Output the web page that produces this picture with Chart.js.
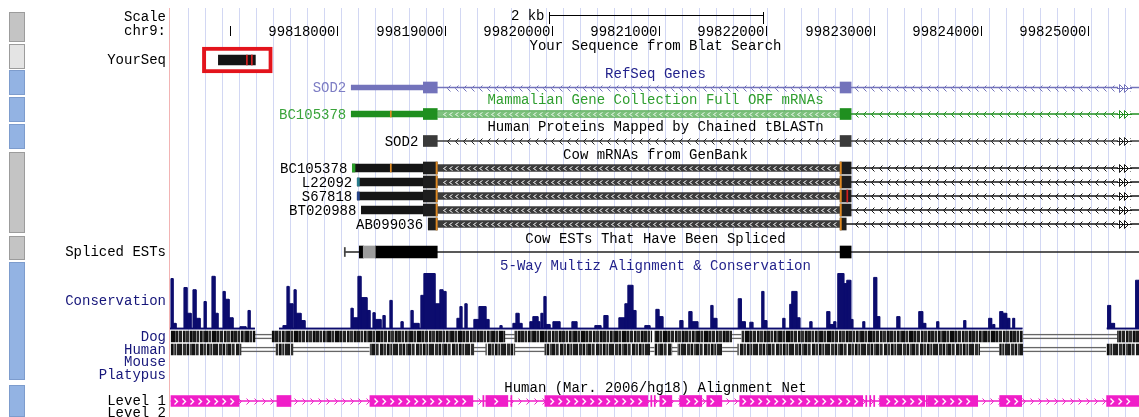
<!DOCTYPE html>
<html>
<head>
<meta charset="utf-8">
<script src="https://cdn.jsdelivr.net/npm/chart.js@4.4.0/dist/chart.umd.min.js"></script>
<style>
  body { margin: 0; background: #fff; }
  canvas { display: block; }
</style>
</head>
<body>
<canvas id="browser" width="1139" height="417"></canvas>
<script>
// WINDOW chr9
const viewStart = 99816440;
const viewEnd = 99825475;
const tickPositions = [99817000, 99818000, 99819000, 99820000, 99821000, 99822000, 99823000, 99824000, 99825000];
const scaleBar = [99819976, 99821971];
const scaleLabel = "2 kb";

// LEFT LABELS + TRACK TITLES
const sideLabels = ["Scale", "chr9:", "YourSeq", "Spliced ESTs", "Conservation", "Dog", "Human", "Mouse", "Platypus", "Level 1", "Level 2"];
const trackTitles = [
  "Your Sequence from Blat Search",
  "RefSeq Genes",
  "Mammalian Gene Collection Full ORF mRNAs",
  "Human Proteins Mapped by Chained tBLASTn",
  "Cow mRNAs from GenBank",
  "Cow ESTs That Have Been Spliced",
  "5-Way Multiz Alignment & Conservation",
  "Human (Mar. 2006/hg18) Alignment Net"
];

// BLAT HIT
const blatHit = [99816891, 99817236];
const blatMismatches = [99817152, 99817198];
const blatBox = [99816742, 99817394];

// SOD2 STRUCTURE
const exons = [[99818802, 99818932], [99822688, 99822791]];
const utrStart = 99818130;
const cdsMark = 99818494;
const contMark = 99825298;

// COW mRNAs
const cowNames = ["BC105378", "L22092", "S67818", "BT020988", "AB099036"];
const cowStarts = [99818140, 99818186, 99818186, 99818224, 99818848];
const cowExon2Ends = [99822791, 99822791, 99822791, 99822791, 99822745];

// COW SPLICED EST
const estStart = 99818065;
const estBlocks = [[99818205, 99818242], [99818354, 99818932], [99822688, 99822791]];
const estGrey = [[99818242, 99818354]];

// CONSERVATION (covered ranges + peaks [start, end, score])
const consRegions = [[99816440, 99817232], [99817456, 99824390], [99825173, 99825475]];
const consPeaks = [
  [99816449, 99816468, 0.91], [99816468, 99816496, 0.11], [99816570, 99816598, 0.75], [99816598, 99816636, 0.29],
  [99816654, 99816682, 0.71], [99816682, 99816720, 0.20], [99816757, 99816776, 0.50], [99816831, 99816859, 0.95],
  [99816859, 99816887, 0.29], [99816934, 99816953, 0.68], [99816953, 99816990, 0.54], [99816990, 99817027, 0.21],
  [99817092, 99817148, 0.05], [99817167, 99817186, 0.34],
  [99817493, 99817530, 0.07], [99817530, 99817549, 0.77], [99817549, 99817586, 0.46], [99817596, 99817614, 0.71],
  [99817614, 99817661, 0.29], [99817661, 99817698, 0.16], [99818127, 99818146, 0.38], [99818146, 99818192, 0.21],
  [99818192, 99818220, 0.95], [99818220, 99818276, 0.57], [99818276, 99818304, 0.34], [99818332, 99818351, 0.30],
  [99818351, 99818407, 0.18], [99818425, 99818444, 0.25], [99818490, 99818509, 0.52], [99818593, 99818612, 0.14],
  [99818686, 99818705, 0.34], [99818705, 99818761, 0.11], [99818779, 99818807, 0.61], [99818807, 99818910, 1.00],
  [99818910, 99818956, 0.46], [99818956, 99818984, 0.71], [99818984, 99819012, 0.68], [99819115, 99819143, 0.20],
  [99819143, 99819161, 0.41], [99819189, 99819208, 0.46], [99819273, 99819320, 0.18], [99819320, 99819385, 0.41],
  [99819385, 99819413, 0.18], [99819516, 99819534, 0.07], [99819637, 99819665, 0.11], [99819665, 99819693, 0.29],
  [99819693, 99819721, 0.11], [99819795, 99819823, 0.14], [99819823, 99819870, 0.23], [99819870, 99819888, 0.14],
  [99819898, 99819916, 0.29], [99819926, 99819944, 0.59], [99819944, 99819982, 0.09], [99820010, 99820075, 0.14],
  [99820187, 99820233, 0.14], [99820401, 99820457, 0.07], [99820485, 99820522, 0.25], [99820625, 99820681, 0.21],
  [99820681, 99820709, 0.46], [99820709, 99820755, 0.79], [99820755, 99820783, 0.34], [99820867, 99820914, 0.07],
  [99820970, 99820998, 0.36], [99820998, 99821035, 0.23], [99821193, 99821221, 0.16], [99821277, 99821305, 0.32],
  [99821305, 99821361, 0.14], [99821482, 99821501, 0.43], [99821501, 99821538, 0.20], [99821738, 99821766, 0.55],
  [99821766, 99821803, 0.14], [99821846, 99821874, 0.13], [99821957, 99821976, 0.68], [99821976, 99822004, 0.16],
  [99822153, 99822172, 0.20], [99822218, 99822237, 0.45], [99822237, 99822284, 0.68], [99822284, 99822312, 0.21],
  [99822405, 99822424, 0.14], [99822563, 99822591, 0.32], [99822591, 99822628, 0.09], [99822628, 99822647, 0.14],
  [99822666, 99822722, 1.00], [99822722, 99822750, 0.82], [99822750, 99822787, 0.88], [99822787, 99822806, 0.18],
  [99822899, 99822917, 0.14], [99823001, 99823029, 0.93], [99823029, 99823057, 0.23], [99823216, 99823244, 0.23],
  [99823421, 99823458, 0.32], [99823458, 99823486, 0.11], [99823588, 99823607, 0.14], [99823840, 99823859, 0.16],
  [99824073, 99824101, 0.20], [99824110, 99824129, 0.09], [99824176, 99824204, 0.32], [99824204, 99824241, 0.29],
  [99824241, 99824269, 0.20], [99824297, 99824315, 0.20],
  [99825182, 99825210, 0.43], [99825210, 99825247, 0.11], [99825443, 99825475, 0.88]
];
const consBaseScore = 0.025;

// MULTIZ ALIGNED BLOCKS / GAPS
const dogBlocks = [[99816449, 99817232], [99817391, 99819562], [99819655, 99820932], [99820960, 99821678], [99821771, 99824390], [99825275, 99825475]];
const dogGaps = [[99817232, 99817391], [99819562, 99819655], [99821678, 99821771], [99824390, 99825275]];
const humanBlocks = [[99816449, 99817102], [99817428, 99817586], [99818304, 99819273], [99819385, 99819655], [99819935, 99820914],
  [99820960, 99821119], [99821175, 99821585], [99821734, 99823989], [99824176, 99824390], [99825173, 99825475]];
const humanGaps = [[99817102, 99817428], [99817586, 99818304], [99819273, 99819385], [99819655, 99819935], [99820914, 99820960],
  [99821119, 99821175], [99821585, 99821734], [99823989, 99824176], [99824390, 99825173]];

// NET LEVEL 1
const netBlocks = [[99816449, 99817083], [99817437, 99817568], [99818304, 99819264], [99819385, 99819590], [99819935, 99820895],
  [99821007, 99821119], [99821193, 99821398], [99821445, 99821585], [99821752, 99822899], [99823057, 99823477],
  [99823505, 99823971], [99824176, 99824381], [99825173, 99825475]];
const netTicks = [99819357, 99819618, 99820923, 99820955, 99822927, 99822964, 99823001, 99823491];

// LAYOUT (pixel rows)
const rowY = {
  scale: 17, ruler: 31, blat: 60, refseq: 87.5, mgc: 114, prot: 141,
  cow: [168, 182, 196, 210, 224], est: 252, dog: 336.5, human: 349.5, level1: 401
};
const sideLabelY = [17, 31, 60, 252, 301, 337, 350, 362, 375, 401, 413];
const titleY = [46, 74, 100.5, 127.5, 155, 239, 266, 388];
const sideButtons = [[12, 42, "g"], [44, 69, "l"], [70, 95, "b"], [97, 122, "b"], [124, 149, "b"],
  [152, 233, "g"], [236, 260, "g"], [262, 380, "b"], [385, 417, "b"]];
const consBaseline = 329.5, consHeight = 56;

// COLOURS
const navy = "#16167a";
const refColor = "#7373bb", mgcColor = "#1f8f1f", protColor = "#3a3a3a", cowColor = "#151515";
const netColor = "#f01ec8", consColor = "#0c0c6e", orange = "#e08a22";
const sideLabelColors = ["#000", "#000", "#000", "#000", navy, navy, navy, navy, navy, "#000", "#000"];
const titleColors = ["#000", "#23238c", "#2f9e2f", "#000", "#000", "#000", "#23238c", "#000"];
const FONT = "14px 'Liberation Mono', 'DejaVu Sans Mono', monospace";

const canvas = document.getElementById("browser");
const ctx0 = canvas.getContext("2d");

function barcode(stripes) {
  const c = document.createElement("canvas");
  c.width = stripes.reduce((s, st) => s + st[0], 0);
  c.height = 1;
  const g = c.getContext("2d");
  let x = 0;
  stripes.forEach(([w, col]) => { g.fillStyle = col; g.fillRect(x, 0, w, 1); x += w; });
  return ctx0.createPattern(c, "repeat");
}
const dogPattern = barcode([[3, "#101010"], [1, "#777"], [2, "#2a2a2a"], [1, "#bbb"], [4, "#0a0a0a"], [1, "#555"], [2, "#1a1a1a"],
  [1, "#999"], [3, "#222"], [1, "#e0e0e0"], [2, "#141414"], [1, "#666"], [3, "#303030"], [1, "#aaa"], [2, "#0c0c0c"],
  [1, "#4a4a4a"], [3, "#1c1c1c"], [1, "#888"], [2, "#262626"], [1, "#ccc"], [2, "#111"], [2, "#5a5a5a"], [1, "#202020"]]);
const humanPattern = barcode([[2, "#1a1a1a"], [1, "#d8d8d8"], [3, "#2e2e2e"], [1, "#8a8a8a"], [2, "#111"], [1, "#bcbcbc"], [2, "#444"],
  [3, "#151515"], [1, "#a0a0a0"], [2, "#2a2a2a"], [1, "#6e6e6e"], [1, "#eeeeee"], [3, "#181818"], [1, "#7a7a7a"], [2, "#333"],
  [1, "#c8c8c8"], [2, "#0e0e0e"], [2, "#5c5c5c"], [1, "#262626"], [1, "#b0b0b0"], [3, "#1f1f1f"]]);

// DATASETS
const datasets = [];
function hbar(ranges, row, thick, color, extra) {
  datasets.push(Object.assign({
    type: "bar", indexAxis: "y", xAxisID: "x", yAxisID: "y",
    data: ranges.map(r => ({ x: [r[0], r[1]], y: row })),
    barThickness: thick, grouped: false, backgroundColor: color,
    borderWidth: 0, order: 5
  }, extra || {}));
}
const dbl = { borderWidth: { top: 1, bottom: 1, left: 0, right: 0 }, borderSkipped: false, order: 7 };
const minusArrows = (color) => ({ chevron: { dir: -1, color, size: 3, step: 8 }, order: 9 });

// blat
hbar([blatBox], rowY.blat, 26, "#fff", { borderColor: "#e3141c", borderWidth: 4, borderSkipped: false, order: 20 });
hbar([blatHit], rowY.blat, 10, "#141414");
hbar(blatMismatches.map(p => [p, p + 10]), rowY.blat, 10, "#d42020", { order: 1 });

// refseq
hbar([[exons[0][1], exons[1][0]], [exons[1][1], viewEnd]], rowY.refseq, 1, refColor, minusArrows(refColor));
hbar([[utrStart, exons[0][0]]], rowY.refseq, 5, refColor, { order: 6 });
hbar(exons, rowY.refseq, 11, refColor);

// mgc
hbar([[exons[1][1], viewEnd]], rowY.mgc, 1, mgcColor, minusArrows(mgcColor));
hbar([[exons[0][1], exons[1][0]]], rowY.mgc, 7, "#7fc27f",
  Object.assign({}, dbl, { borderColor: mgcColor, chevron: { dir: -1, color: "#e8f6e8", size: 2, step: 6 } }));
hbar([[utrStart, exons[0][0]]], rowY.mgc, 6, mgcColor, { order: 6 });
hbar(exons, rowY.mgc, 11, mgcColor);
hbar([[cdsMark, cdsMark + 10]], rowY.mgc, 6, orange, { order: 1 });

// human proteins
hbar([[exons[0][1], exons[1][0]], [exons[1][1], viewEnd]], rowY.prot, 1, protColor, minusArrows("#222"));
hbar(exons, rowY.prot, 11, protColor);

// cow mRNAs
cowNames.forEach((name, i) => {
  const y = rowY.cow[i];
  const s = cowStarts[i];
  hbar([[cowExon2Ends[i], viewEnd]], y, 1, cowColor, minusArrows(cowColor));
  hbar([[exons[0][1], exons[1][0]]], y, 7, "#3c3c3c",
    Object.assign({}, dbl, { borderColor: "#000", chevron: { dir: -1, color: "#f2f2f2", size: 2, step: 6 } }));
  if (s < exons[0][0]) hbar([[s, exons[0][0]]], y, 8, cowColor, { order: 6 });
  hbar([[Math.max(s, exons[0][0]), exons[0][1]], [exons[1][0], cowExon2Ends[i]]], y, 12, "#1e1e1e");
  hbar([[exons[0][1] - 12, exons[0][1]], [exons[1][0], exons[1][0] + 12]], y, 12, orange, { order: 1 });
});
hbar([[cdsMark, cdsMark + 10]], rowY.cow[0], 8, orange, { order: 1 });
hbar([[cowStarts[0], cowStarts[0] + 25]], rowY.cow[0], 8, "#2aa02a", { order: 1 });
hbar([[cowStarts[1], cowStarts[1] + 20]], rowY.cow[1], 8, "#287c8c", { order: 1 });
hbar([[cowStarts[2], cowStarts[2] + 20]], rowY.cow[2], 8, "#28468c", { order: 1 });
hbar([[99822750, 99822760]], rowY.cow[2], 12, "#d02020", { order: 1 });

// cow spliced ESTs
hbar([[estStart, viewEnd]], rowY.est, 1, "#222", { order: 9 });
hbar([[estStart, estStart + 10]], rowY.est, 9, "#444", { order: 8 });
hbar(estGrey, rowY.est, 12, "#9c9c9c");
hbar(estBlocks, rowY.est, 12, "#000");

// conservation wiggle
consRegions.forEach(([a, b]) => {
  const pts = [{ x: a, y: consBaseScore }];
  consPeaks.filter(p => p[0] >= a && p[1] <= b).forEach(([s, e, v]) => {
    pts.push({ x: s, y: consBaseScore }, { x: s, y: v }, { x: e, y: v }, { x: e, y: consBaseScore });
  });
  pts.push({ x: b, y: consBaseScore });
  datasets.push({
    type: "line", xAxisID: "x", yAxisID: "yCons", data: pts,
    borderColor: consColor, backgroundColor: consColor, borderWidth: 1,
    pointRadius: 0, tension: 0, fill: { value: 0 }, order: 5
  });
});

// dog / human alignment
hbar(dogGaps, rowY.dog, 5, "rgba(0,0,0,0)", Object.assign({}, dbl, { borderColor: "#666" }));
hbar(dogBlocks, rowY.dog, 11, dogPattern);
hbar(humanGaps, rowY.human, 5, "rgba(0,0,0,0)", Object.assign({}, dbl, { borderColor: "#666" }));
hbar(humanBlocks, rowY.human, 11, humanPattern);

// net level 1
hbar([[netBlocks[0][0], viewEnd]], rowY.level1, 1, netColor, { chevron: { dir: 1, color: netColor, size: 3, step: 8 }, order: 9 });
hbar(netBlocks, rowY.level1, 11, netColor, { chevron: { dir: 1, color: "#fff", size: 3, step: 8, width: 1.4 } });
hbar(netTicks.map(p => [p, p + 10]), rowY.level1, 11, netColor);

// DRAWING HELPERS
function text(ctx, str, x, y, color, align) {
  ctx.fillStyle = color;
  ctx.textAlign = align;
  ctx.fillText(str, x, y);
}

const decor = {
  id: "decor",
  beforeDraw(chart) {
    const ctx = chart.ctx;
    ctx.save();
    ctx.fillStyle = "#fff";
    ctx.fillRect(0, 0, chart.width, chart.height);

    // side buttons
    sideButtons.forEach(([y0, y1, kind]) => {
      ctx.fillStyle = kind === "b" ? "#93b3e3" : kind === "g" ? "#c4c4c4" : "#e4e4e4";
      ctx.fillRect(9, y0, 16, y1 - y0);
      ctx.strokeStyle = kind === "b" ? "#7d9ccd" : "#9c9c9c";
      ctx.lineWidth = 1;
      ctx.strokeRect(9.5, y0 + 0.5, 15, y1 - y0 - 1);
    });

    // guidelines
    ctx.strokeStyle = "#d2d7f3";
    for (let px = 187.5; px < chart.chartArea.right; px += 17.05) {
      const p = Math.round(px) + 0.5;
      ctx.beginPath(); ctx.moveTo(p, 8); ctx.lineTo(p, chart.height); ctx.stroke();
    }
    ctx.strokeStyle = "#f2b4b4";
    ctx.beginPath(); ctx.moveTo(169.5, 8); ctx.lineTo(169.5, chart.height); ctx.stroke();
    ctx.restore();
  },
  afterDatasetsDraw(chart) {
    const ctx = chart.ctx;
    const xs = chart.scales.x;
    const ys = chart.scales.y;
    const area = chart.chartArea;
    ctx.save();

    // strand chevrons
    chart.data.datasets.forEach((ds, i) => {
      if (!ds.chevron) return;
      const c = ds.chevron;
      ctx.strokeStyle = c.color;
      ctx.lineWidth = c.width || 1;
      chart.getDatasetMeta(i).data.forEach(el => {
        const left = Math.max(Math.min(el.x, el.base), area.left);
        const right = Math.min(Math.max(el.x, el.base), area.right);
        const cy = Math.round(el.y);
        for (let px = Math.ceil((left + 4) / c.step) * c.step; px <= right - 4; px += c.step) {
          ctx.beginPath();
          if (c.dir < 0) {
            ctx.moveTo(px + 2.5, cy - c.size + 0.5); ctx.lineTo(px - 0.5, cy + 0.5); ctx.lineTo(px + 2.5, cy + c.size + 0.5);
          } else {
            ctx.moveTo(px - 1.5, cy - c.size + 0.5); ctx.lineTo(px + 1.5, cy + 0.5); ctx.lineTo(px - 1.5, cy + c.size + 0.5);
          }
          ctx.stroke();
        }
      });
    });

    // continuation marks on gene rows
    const cx = Math.round(xs.getPixelForValue(contMark));
    [[rowY.refseq, refColor], [rowY.mgc, mgcColor], [rowY.prot, "#222"]].concat(rowY.cow.map(y => [y, cowColor]))
      .forEach(([y, col]) => {
        const cy = Math.round(y) + 0.5;
        ctx.fillStyle = "#fff";
        ctx.fillRect(cx - 2, cy - 4, 12, 8);
        ctx.strokeStyle = col;
        ctx.lineWidth = 1;
        [cx - 1, cx + 4].forEach(x0 => {
          ctx.beginPath(); ctx.moveTo(x0 + 0.5, cy - 4); ctx.lineTo(x0 + 4.5, cy); ctx.lineTo(x0 + 0.5, cy + 4); ctx.closePath(); ctx.stroke();
        });
        ctx.beginPath(); ctx.moveTo(cx - 3, cy); ctx.lineTo(cx + 12, cy); ctx.stroke();
      });

    // texts
    ctx.font = FONT;
    ctx.textBaseline = "middle";
    sideLabels.forEach((s, i) => text(ctx, s, 166, sideLabelY[i], sideLabelColors[i], "right"));
    const mid = (area.left + area.right) / 2 + 1;
    trackTitles.forEach((s, i) => text(ctx, s, mid, titleY[i], titleColors[i], "center"));

    // ruler
    ctx.strokeStyle = "#000";
    ctx.lineWidth = 1;
    tickPositions.forEach(p => {
      const px = Math.round(xs.getPixelForValue(p)) + 0.5;
      ctx.beginPath(); ctx.moveTo(px, rowY.ruler - 5); ctx.lineTo(px, rowY.ruler + 5); ctx.stroke();
      const label = String(p);
      if (px - ctx.measureText(label).width - 3 > area.left) text(ctx, label, px - 2, rowY.ruler + 1, "#000", "right");
    });
    const s0 = Math.round(xs.getPixelForValue(scaleBar[0])) + 0.5;
    const s1 = Math.round(xs.getPixelForValue(scaleBar[1])) + 0.5;
    ctx.beginPath();
    ctx.moveTo(s0, rowY.scale - 5); ctx.lineTo(s0, rowY.scale + 7);
    ctx.moveTo(s1, rowY.scale - 5); ctx.lineTo(s1, rowY.scale + 7);
    ctx.moveTo(s0, rowY.scale - 1.5); ctx.lineTo(s1, rowY.scale - 1.5);
    ctx.stroke();
    text(ctx, scaleLabel, s0 - 5, rowY.scale - 1, "#000", "right");

    // item labels
    const lx = v => xs.getPixelForValue(v) - 5;
    text(ctx, "SOD2", lx(utrStart), ys.getPixelForValue(rowY.refseq) + 1, "#7d7dc4", "right");
    text(ctx, "BC105378", lx(utrStart), ys.getPixelForValue(rowY.mgc) + 1, "#3aa33a", "right");
    text(ctx, "SOD2", lx(exons[0][0]), ys.getPixelForValue(rowY.prot) + 1, "#000", "right");
    cowNames.forEach((n, i) => text(ctx, n, lx(cowStarts[i]), ys.getPixelForValue(rowY.cow[i]) + 1, "#000", "right"));
    ctx.restore();
  }
};

new Chart(canvas, {
  type: "bar",
  data: { datasets },
  options: {
    responsive: false,
    animation: false,
    devicePixelRatio: 1,
    events: [],
    layout: { padding: { left: 170, right: 0, top: 0, bottom: 0 } },
    plugins: { legend: { display: false }, tooltip: { enabled: false } },
    scales: {
      x: { type: "linear", min: viewStart, max: viewEnd, display: false, offset: false },
      y: { type: "linear", min: 0, max: 417, reverse: true, display: false, offset: false },
      yCons: {
        type: "linear", axis: "y", display: false, offset: false,
        min: -(417 - consBaseline) / consHeight,
        max: consBaseline / consHeight
      }
    }
  },
  plugins: [decor]
});
</script>
</body>
</html>
